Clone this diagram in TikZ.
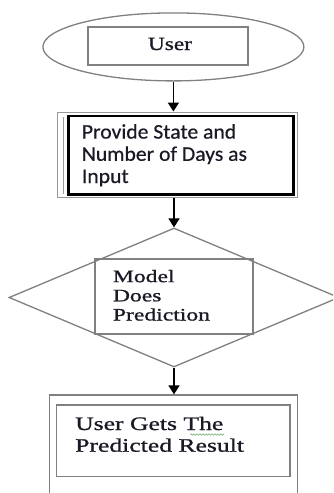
\documentclass[tikz,border=0pt]{standalone}
\usepackage{fontspec}
\newfontfamily\serifU[FakeStretch=1.25,FakeBold=1]{Liberation Serif}
\newfontfamily\serifW[FakeStretch=1.35,FakeBold=1]{Liberation Serif}
\newfontfamily\sansW[FakeStretch=1.04,FakeBold=0.5]{Carlito}
\usetikzlibrary{shapes.geometric,arrows.meta,decorations.pathmorphing}
\definecolor{linegray}{HTML}{808080}
\definecolor{txt}{HTML}{1A1A26}
\definecolor{spellgreen}{HTML}{6DB36D}
\begin{document}
\begin{tikzpicture}[x=1pt,y=-1pt,
  grayline/.style={draw=linegray, line width=1.3pt},
  boxshape/.style={rectangle, inner sep=0pt},
  flowarrow/.style={draw=black, line width=1.8pt, -{Triangle[width=11pt,length=9pt]}},
  txtnode/.style={inner sep=0pt, align=left, text=txt, anchor=base west}]
\clip (0,0) rectangle (333,493);
\fill[white] (0,0) rectangle (333,493);

% User ellipse
\node[ellipse, grayline, minimum width=261pt, minimum height=68pt, inner sep=0pt] (user) at (173.4,46.9) {};
\node[boxshape, grayline, minimum width=160pt, minimum height=38pt] (userbox) at (168,46) {};
\node[txtnode, anchor=base, font=\fontsize{18.6}{20}\serifU] (usertext) at (170,50) {User};

% Input box
\node[boxshape, draw=linegray!80, line width=1pt, minimum width=240pt, minimum height=85pt] (inputouter) at (177,154.5) {};
\draw[linegray!80, line width=0.8pt] (63,117) -- (63,194);
\node[boxshape, draw=black, line width=2.4pt, minimum width=225pt, minimum height=78.6pt] (input) at (180.8,155) {};
\node[txtnode, font=\fontsize{20.8}{22.2}\sansW] (inputtext) at (81.7,183) {Provide State and\\Number of Days as\\Input};

% Decision diamond
\node[diamond, grayline, minimum width=330pt, minimum height=139pt, inner sep=0pt] (model) at (174,297.5) {};
\node[boxshape, grayline, minimum width=158pt, minimum height=75pt] (modelbox) at (174,296.5) {};
\node[txtnode, font=\fontsize{17.5}{19.2}\serifW] (modeltext) at (112.7,320.5) {Model\\Does\\Prediction};

% Result box
\node[boxshape, grayline, minimum width=248pt, minimum height=125pt] (resultouter) at (173.3,457.5) {};
\node[boxshape, grayline, minimum width=233.3pt, minimum height=71.7pt] (result) at (173.4,440.9) {};
\node[txtnode, font=\fontsize{19}{21.7}\serifW] (resulttext) at (75,451.7) {User Gets The\\Predicted Result};
\draw[spellgreen, line width=0.6pt, decorate, decoration={snake, amplitude=0.7pt, segment length=3pt}] (190,434.5) -- (224,434.5);

% Connectors
\draw[flowarrow] (user.south) -- (user.south |- inputouter.north);
\draw[flowarrow] (model.north |- inputouter.south) -- (model.north);
\draw[flowarrow] (model.south) -- (model.south |- resultouter.north);
\end{tikzpicture}
\end{document}
